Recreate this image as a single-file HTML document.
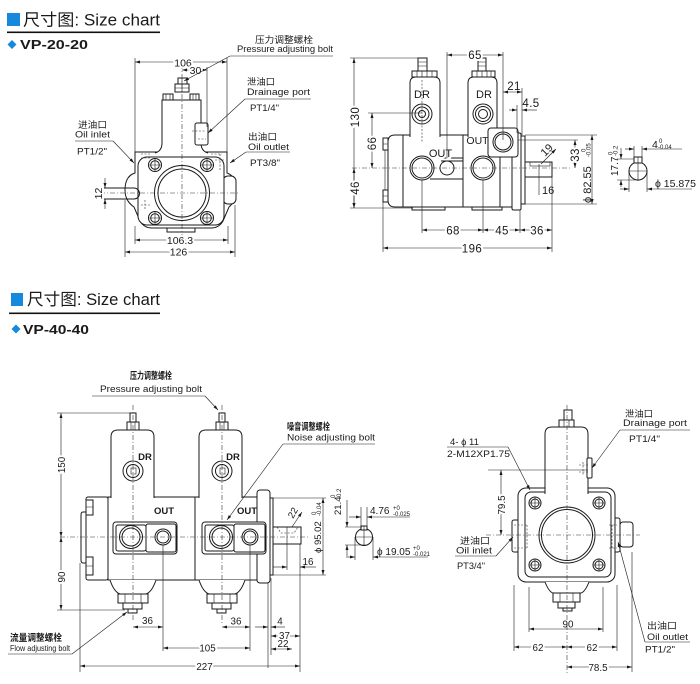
<!DOCTYPE html>
<html><head><meta charset="utf-8">
<style>
html,body{margin:0;padding:0;background:#fff;}
svg{display:block}
text{font-family:"Liberation Sans","Noto Sans CJK SC",sans-serif;fill:#1a1a1a}
.l{fill:none;stroke:#1a1a1a;stroke-width:1}
.w{fill:#fff;stroke:#1a1a1a;stroke-width:1}
.t{fill:none;stroke:#1a1a1a;stroke-width:0.6}
.c{fill:none;stroke:#333;stroke-width:0.6;stroke-dasharray:5 2 1 2}
.d{fill:none;stroke:#333;stroke-width:0.6;stroke-dasharray:2 1.5}
.dm{fill:none;stroke:#1a1a1a;stroke-width:0.6;marker-start:url(#a);marker-end:url(#a)}
.de{fill:none;stroke:#1a1a1a;stroke-width:0.6;marker-end:url(#a)}
.m{stroke:#fff;stroke-width:4;paint-order:stroke;stroke-linejoin:round}
.n{font-size:10.5px;text-anchor:middle}
.n2{font-size:11.5px;text-anchor:middle;letter-spacing:0.4px}
.n3{font-size:9.8px;text-anchor:middle}
.lb{font-size:9px}
.tl{font-size:6px}
</style></head><body>
<svg width="700" height="684" viewBox="0 0 700 684" xmlns="http://www.w3.org/2000/svg">
<defs><marker id="a" viewBox="0 0 10 6" refX="10" refY="3" markerWidth="6" markerHeight="3" markerUnits="userSpaceOnUse" orient="auto-start-reverse"><path d="M0,0L10,3L0,6z" fill="#1a1a1a"/></marker></defs>

<!-- ===== HEADER 1 ===== -->
<rect x="7" y="13" width="13" height="13" fill="#1689dc"/>
<text x="23" y="25.5" font-size="16.5" textLength="137" lengthAdjust="spacingAndGlyphs">尺寸图: Size chart</text>
<rect x="7" y="31.5" width="153" height="1.6" fill="#111"/>
<path d="M7.5,44.5 L12,40 L16.5,44.5 L12,49 Z" fill="#1689dc"/>
<text x="20" y="49" font-size="13" font-weight="bold" textLength="68" lengthAdjust="spacingAndGlyphs">VP-20-20</text>

<!-- ===== HEADER 2 ===== -->
<rect x="11" y="293" width="12" height="13" fill="#1689dc"/>
<text x="27" y="305" font-size="16.5" textLength="133" lengthAdjust="spacingAndGlyphs">尺寸图: Size chart</text>
<rect x="9" y="312.5" width="151" height="1.6" fill="#111"/>
<path d="M11.5,329 L16,324.5 L20.5,329 L16,333.5 Z" fill="#1689dc"/>
<text x="23" y="334" font-size="13" font-weight="bold" textLength="66" lengthAdjust="spacingAndGlyphs">VP-40-40</text>

<!-- ===== TOP-LEFT: VP-20-20 front ===== -->
<path class="w" d="M135,152 H227 V173 Q236,176 236,190 Q236,201 229,207 L223,221 Q219,228 211,228 H152 Q144,228 140,221 L134,207 Q125,201 125,190 Q125,176 135,173 Z"/>
<rect class="w" x="223" y="176" width="13" height="28" rx="5"/>
<rect class="w" x="138" y="157" width="86" height="68" rx="9"/>
<rect class="l" x="167" y="228" width="28" height="4"/>
<path class="l" d="M103,188 H134 A5.5,5.5 0 0 1 134,199 H103"/>
<path class="d" d="M141,154 H150 M141,158 H150 M141,205 H150 M145,200 V210 M211,154 H222 M215,160 H224 M220,154 V170"/>
<!-- cover -->
<path class="w" d="M155,153 Q162,151 162,143 V100 H201 V143 Q201,151 208,153"/>
<rect class="w" x="163" y="94" width="10" height="6"/>
<rect class="w" x="190" y="94" width="9" height="6"/>
<path class="t" d="M166,94 V100 M170,94 V100 M193,94 V100 M196,94 V100"/>
<rect class="w" x="175" y="84" width="14" height="8"/>
<rect class="w" x="178" y="78" width="9" height="6"/>
<path class="t" d="M175,88 H189 M182,78 V92"/>
<rect class="w" x="195" y="123" width="13" height="22" rx="2"/>
<path class="d" d="M192,131 H206 M198,139 H206"/>
<!-- big circle -->
<circle class="w" cx="182" cy="193" r="27.5"/>
<circle class="l" cx="182" cy="193" r="24"/>
<!-- bolt holes -->
<g>
<circle class="w" cx="155" cy="165" r="6.5"/><circle class="l" cx="155" cy="165" r="4.3"/><path class="t" d="M149,165 H161 M155,159 V171"/>
<circle class="w" cx="207" cy="165" r="6.5"/><circle class="l" cx="207" cy="165" r="4.3"/><path class="t" d="M201,165 H213 M207,159 V171"/>
<circle class="w" cx="155" cy="218" r="6.5"/><circle class="l" cx="155" cy="218" r="4.3"/><path class="t" d="M149,218 H161 M155,212 V224"/>
<circle class="w" cx="207" cy="218" r="6.5"/><circle class="l" cx="207" cy="218" r="4.3"/><path class="t" d="M201,218 H213 M207,212 V224"/>
</g>
<line class="c" x1="182" y1="64" x2="182" y2="238"/>
<line class="c" x1="100" y1="193" x2="240" y2="193"/>
<!-- dims TL -->
<path class="t" d="M135,58 V153 M227,58 V153 M207,67 V127 M125,200 V257 M235,205 V257 M135,226 V244 M228,226 V244"/>
<path class="dm" d="M135,62 H227"/><text class="n m" x="183" y="66.5">106</text>
<path class="dm" d="M182,70 H207"/><text class="n m" x="195.5" y="74">30</text>
<path class="de" d="M105,178 V188"/><path class="de" d="M105,209 V199"/>
<text class="n m" transform="translate(102,193.5) rotate(-90)">12</text>
<path class="dm" d="M135,240 H228"/><text class="n m" x="180" y="244">106.3</text>
<path class="dm" d="M125,252 H235"/><text class="n m" x="178.5" y="255.5">126</text>
<!-- labels TL -->
<path class="t" d="M230,56 H333"/><path class="de" d="M230,56 L184,81"/>
<text class="lb" x="255" y="43" textLength="58" lengthAdjust="spacingAndGlyphs">压力调整螺栓</text>
<text class="lb" x="237" y="52" textLength="96" lengthAdjust="spacingAndGlyphs">Pressure adjusting bolt</text>
<path class="t" d="M245,99 H311"/><path class="de" d="M245,99 L208,133"/>
<text class="lb" x="247" y="85" textLength="28" lengthAdjust="spacingAndGlyphs">泄油口</text>
<text class="lb" x="247" y="95" textLength="63" lengthAdjust="spacingAndGlyphs">Drainage port</text>
<text class="lb" x="250" y="111" textLength="29" lengthAdjust="spacingAndGlyphs">PT1/4"</text>
<path class="t" d="M246,152 H290"/><path class="de" d="M246,152 L230,163"/>
<text class="lb" x="248" y="140" textLength="29" lengthAdjust="spacingAndGlyphs">出油口</text>
<text class="lb" x="248" y="150" textLength="41" lengthAdjust="spacingAndGlyphs">Oil outlet</text>
<text class="lb" x="250" y="166" textLength="30" lengthAdjust="spacingAndGlyphs">PT3/8"</text>
<path class="t" d="M75,141 H113"/><path class="de" d="M113,141 L134,163"/>
<text class="lb" x="78" y="128" textLength="29" lengthAdjust="spacingAndGlyphs">进油口</text>
<text class="lb" x="75" y="137.5" textLength="35" lengthAdjust="spacingAndGlyphs">Oil inlet</text>
<text class="lb" x="77" y="154.5" textLength="30" lengthAdjust="spacingAndGlyphs">PT1/2"</text>

<!-- ===== TOP-RIGHT: side view ===== -->
<path class="w" d="M395,135 H502 V207 H395 Q388,207 388,200 V142 Q388,135 395,135 Z"/>
<rect class="w" x="383" y="138" width="5" height="12"/>
<rect class="w" x="383" y="190" width="5" height="12"/>
<path class="t" d="M385,150 V190 M383,144 H388 M383,196 H388"/>
<path class="l" d="M403,135 V207 M463,135 V207"/>
<rect class="l" x="412" y="207" width="33" height="3"/>
<rect class="l" x="472" y="207" width="30" height="3"/>
<rect class="w" x="500" y="135" width="13" height="72"/>
<rect class="w" x="512" y="133" width="9" height="77" rx="1.5"/>
<rect class="w" x="521" y="136" width="4" height="68"/>
<rect class="w" x="525" y="162" width="27" height="15"/>
<rect class="t" x="530" y="162" width="20" height="4"/>
<!-- covers -->
<path class="w" d="M410,137 V83 Q410,77 416,77 H434 Q440,77 440,83 V137"/>
<path class="w" d="M468,137 V83 Q468,77 474,77 H491 Q497,77 497,83 V137"/>
<rect class="w" x="412" y="71" width="25" height="6"/>
<path class="t" d="M417,71 V77 M422,71 V77 M427,71 V77 M432,71 V77"/>
<rect class="w" x="418" y="58" width="9" height="13"/>
<path class="t" d="M418,62 H427 M418,66 H427"/>
<rect class="w" x="472" y="71" width="23" height="6"/>
<path class="t" d="M477,71 V77 M482,71 V77 M487,71 V77 M491,71 V77"/>
<rect class="w" x="478" y="58" width="8" height="13"/>
<path class="t" d="M478,62 H486 M478,66 H486"/>
<text x="422" y="98" font-size="11" text-anchor="middle">DR</text>
<text x="484" y="98" font-size="11" text-anchor="middle">DR</text>
<circle class="w" cx="422" cy="114" r="10"/><circle class="l" cx="422" cy="114" r="7"/><circle class="l" cx="422" cy="114" r="3.5"/>
<circle class="w" cx="483" cy="114" r="10"/><circle class="l" cx="483" cy="114" r="7.5"/><circle class="l" cx="483" cy="114" r="4.5"/>
<line class="d" x1="422" y1="80" x2="422" y2="142"/>
<!-- ports -->
<path class="l" d="M441,158 H463 M441,161 H463 M430,179 H463"/>
<circle class="w" cx="422" cy="168" r="12"/><circle class="l" cx="422" cy="168" r="10"/>
<circle class="w" cx="447" cy="168" r="7"/>
<circle class="w" cx="483" cy="168" r="12"/><circle class="l" cx="483" cy="168" r="10"/>
<rect class="w" x="488" y="128" width="30" height="29" rx="3"/>
<circle class="w" cx="503" cy="142" r="10"/><circle class="l" cx="503" cy="142" r="8"/>
<text x="440.5" y="157" font-size="11" text-anchor="middle" class="m">OUT</text>
<text x="477.5" y="144" font-size="10.5" text-anchor="middle">OUT</text>
<line class="c" x1="352" y1="168" x2="572" y2="168"/>
<!-- dims TR -->
<path class="t" d="M350,58 H422 M350,208 H413 M368,113 H422 M447,52 V158 M503,52 V140 M522,88 V135 M517,105 V133 M518,140 H578 M525,135 H597 M525,204 H597 M383,200 V252 M422,180 V233 M483,180 V233 M520,210 V233 M552,177 V252 M539,164 V195"/>
<path class="dm" d="M354,58 V208"/><path class="dm" d="M354,168 V208"/>
<text class="n2 m" transform="translate(359,117) rotate(-90)">130</text>
<text class="n2 m" transform="translate(359,188) rotate(-90)">46</text>
<path class="dm" d="M372,113 V168"/>
<text class="n2 m" transform="translate(376,143.5) rotate(-90)">66</text>
<path class="dm" d="M447,55 H503"/><text class="n2 m" x="475" y="59">65</text>
<path class="dm" d="M503,92 H522"/><text class="n2" x="514" y="90">21</text>
<path class="de" d="M509,110 H517"/><path class="de" d="M537,110 H522"/>
<text class="n2" x="531" y="107">4.5</text>
<path class="dm" d="M575,140 V168"/>
<text class="n2 m" transform="translate(579,155) rotate(-90)">33</text>
<path class="dm" d="M592,135 V204"/>
<text font-size="11" transform="translate(591,203) rotate(-90)">ϕ 82.55</text>
<text class="tl" transform="translate(585.5,152) rotate(-90)">0</text>
<text class="tl" transform="translate(590.5,157) rotate(-90)">-0.05</text>
<path class="de" d="M541,164 L556,149"/>
<text font-size="11" transform="translate(545,157) rotate(-45)">19</text>
<text x="542" y="194" font-size="11">16</text>
<path class="dm" d="M422,230 H483"/><text class="n2 m" x="453" y="234.5">68</text>
<path class="dm" d="M483,230 H520"/><text class="n2 m" x="502" y="234.5">45</text>
<path class="dm" d="M520,230 H552"/><text class="n2 m" x="537" y="234.5">36</text>
<path class="dm" d="M383,248 H552"/><text class="n2 m" x="472" y="252.5">196</text>
<!-- key detail TR -->
<circle class="w" cx="638" cy="171" r="9"/>
<rect class="w" x="634" y="157" width="8" height="6"/>
<path class="t" d="M638,157 V181 M629,171 H647"/>
<path class="t" d="M634,146 V158 M642,146 V158 M617,159 H634 M617,180 H639 M629,171 V192 M647,171 V192"/>
<path class="de" d="M625,149 H634"/><path class="de" d="M682,149 H642"/>
<text x="652" y="148" font-size="10.5">4</text>
<text class="tl" x="659" y="143">0</text>
<text class="tl" x="658" y="149">-0.04</text>
<path class="de" d="M621,148 V159"/><path class="de" d="M621,187 V180"/>
<text font-size="10" transform="translate(618,176) rotate(-90)">17.7</text>
<text class="tl" transform="translate(612.5,155) rotate(-90)">0</text>
<text class="tl" transform="translate(617.5,156) rotate(-90)">-0.2</text>
<path class="de" d="M620,189 H629"/><path class="de" d="M692,189 H647"/>
<text x="655" y="187" font-size="10.5">ϕ 15.875</text>

<!-- ===== BOTTOM-LEFT: VP-40-40 side ===== -->
<path class="l" d="M86,512 H83 Q81,512 81,515 V560 Q81,563 83,563 H86"/>
<rect class="w" x="86" y="497" width="22" height="83" rx="2"/>
<rect class="w" x="86" y="500" width="7" height="15"/>
<rect class="w" x="86" y="557" width="7" height="18"/>
<path class="t" d="M86,507 H93 M86,566 H93"/>
<rect class="w" x="108" y="497" width="149" height="83"/>
<line class="l" x1="195" y1="497" x2="195" y2="580"/>
<!-- flange -->
<rect class="w" x="257" y="490" width="13" height="93" rx="3"/>
<rect class="w" x="270" y="498" width="3" height="77"/>
<rect class="w" x="273" y="527" width="28" height="17"/>
<path class="d" d="M277,527 L281,533 H294 L298,527"/>
<!-- covers -->
<path class="w" d="M111,498 V437 Q111,430 118,430 H147 Q154,430 154,437 V498"/>
<path class="w" d="M199,498 V437 Q199,430 206,430 H235 Q242,430 242,437 V498"/>
<rect class="w" x="127" y="422" width="12" height="8"/><rect class="w" x="130" y="413" width="6" height="9"/>
<rect class="w" x="216" y="422" width="12" height="8"/><rect class="w" x="219" y="413" width="6" height="9"/>
<path class="t" d="M131,422 V430 M135,422 V430 M220,422 V430 M224,422 V430"/>
<text x="145" y="460" font-size="9.5" font-weight="bold" text-anchor="middle">DR</text>
<text x="233" y="460" font-size="9.5" font-weight="bold" text-anchor="middle">DR</text>
<circle class="w" cx="133" cy="471" r="10"/><circle class="l" cx="133" cy="471" r="6.5"/><rect class="t" x="131" y="468" width="5" height="6"/>
<circle class="w" cx="222" cy="471" r="10"/><circle class="l" cx="222" cy="471" r="6.5"/><rect class="t" x="220" y="468" width="5" height="6"/>
<!-- ports -->
<rect class="w" x="113" y="522" width="64" height="32" rx="3"/>
<rect class="l" x="116" y="525" width="30" height="26" rx="2"/>
<rect class="l" x="146" y="524" width="30" height="28" rx="2" stroke-width="1.6"/>
<circle class="w" cx="131" cy="537" r="11.5"/><circle class="l" cx="131" cy="537" r="9"/>
<circle class="w" cx="163" cy="537" r="8"/><circle class="l" cx="163" cy="537" r="6"/>
<rect class="w" x="202" y="522" width="64" height="32" rx="3"/>
<rect class="l" x="205" y="525" width="29" height="26" rx="2"/>
<rect class="l" x="234" y="524" width="31" height="28" rx="2" stroke-width="1.6"/>
<circle class="w" cx="221" cy="537" r="11.5"/><circle class="l" cx="221" cy="537" r="9"/>
<circle class="w" cx="250" cy="537" r="8"/><circle class="l" cx="250" cy="537" r="6"/>
<text x="164" y="514" font-size="9.5" font-weight="bold" text-anchor="middle">OUT</text>
<text x="247" y="514" font-size="9.5" font-weight="bold" text-anchor="middle">OUT</text>
<!-- bottoms -->
<path class="w" d="M110,580 Q114,592 120,594 H146 Q152,592 156,580"/>
<rect class="w" x="118" y="594" width="30" height="9"/><path class="t" d="M125,594 V603 M141,594 V603"/>
<rect class="w" x="123" y="603" width="19" height="6"/><rect class="w" x="128" y="609" width="9" height="4"/>
<path class="w" d="M199,580 Q203,592 209,594 H235 Q241,592 245,580"/>
<rect class="w" x="207" y="594" width="30" height="9"/><path class="t" d="M214,594 V603 M230,594 V603"/>
<rect class="w" x="212" y="603" width="19" height="6"/><rect class="w" x="217" y="609" width="9" height="4"/>
<line class="c" x1="60" y1="537" x2="310" y2="537"/>
<line class="c" x1="133" y1="405" x2="133" y2="622"/>
<line class="c" x1="222" y1="405" x2="222" y2="625"/>
<!-- dims BL -->
<path class="t" d="M57,413 H130 M57,610 H125 M80,563 V672 M163,545 V651 M250,545 V651 M268,583 V668 M271,578 V655 M300,544 V672 M287,527 V570 M273,498 H326 M273,575 H326"/>
<path class="dm" d="M61,413 V537"/><path class="dm" d="M61,537 V610"/>
<text class="n3 m" transform="translate(65,465) rotate(-90)">150</text>
<text class="n3 m" transform="translate(65,577) rotate(-90)">90</text>
<path class="dm" d="M133,627 H163"/><text class="n3" x="147.5" y="624">36</text>
<path class="dm" d="M163,648 H250"/><text class="n3 m" x="207.5" y="651.5">105</text>
<path class="dm" d="M80,666 H300"/><text class="n3 m" x="204.5" y="670">227</text>
<path class="dm" d="M222,627 H250"/><text class="n3" x="236" y="624.5">36</text>
<path class="de" d="M255,627 H268"/><path class="de" d="M285,627 H271"/>
<text class="n3" x="280" y="624.5">4</text>
<path class="dm" d="M271,636 H300"/><text class="n3 m" x="284.5" y="639">37</text>
<path class="dm" d="M271,649 H292"/><text class="n3" x="283" y="647">22</text>
<path class="de" d="M273,567 H287"/><path class="de" d="M316,567 H300"/>
<text class="n3" x="308" y="565">16</text>
<path class="de" d="M292,527 L302,512"/>
<text font-size="9.5" transform="translate(293,519) rotate(-60)">22</text>
<path class="dm" d="M323,498 V575"/>
<text font-size="9.5" transform="translate(321,553) rotate(-90)">ϕ 95.02</text>
<text class="tl" transform="translate(316,515) rotate(-90)">0</text>
<text class="tl" transform="translate(321,516) rotate(-90)">-0.04</text>
<!-- labels BL -->
<path class="t" d="M92,396 H205"/><path class="de" d="M205,396 L218,410"/>
<text x="130" y="379" font-size="9.5" font-weight="bold" textLength="42" lengthAdjust="spacingAndGlyphs">压力调整螺栓</text>
<text x="100" y="392" font-size="9" textLength="102" lengthAdjust="spacingAndGlyphs">Pressure adjusting bolt</text>
<path class="t" d="M283,444 H375"/><path class="de" d="M283,444 L227,520"/>
<text x="287" y="430" font-size="9.5" font-weight="bold" textLength="43" lengthAdjust="spacingAndGlyphs">噪音调整螺栓</text>
<text x="287" y="440.5" font-size="9" textLength="88" lengthAdjust="spacingAndGlyphs">Noise adjusting bolt</text>
<path class="t" d="M8,654 H72"/><path class="de" d="M72,654 L127,612"/>
<text x="10" y="641" font-size="9.5" font-weight="bold" textLength="52" lengthAdjust="spacingAndGlyphs">流量调整螺栓</text>
<text x="10" y="651" font-size="8" textLength="60" lengthAdjust="spacingAndGlyphs">Flow adjusting bolt</text>
<!-- key detail BL -->
<circle class="w" cx="364" cy="537" r="8.5"/>
<rect class="w" x="361" y="526" width="6" height="4"/>
<path class="t" d="M364,526 V546 M356,537 H372"/>
<path class="t" d="M345,527 H362 M345,545 H366 M361,507 V527 M367,507 V527 M355,537 V560 M373,537 V560"/>
<path class="de" d="M347,500 V527"/><path class="de" d="M347,556 V545"/>
<text font-size="9.5" transform="translate(341,515) rotate(-90)">21.4</text>
<text class="tl" transform="translate(335,498) rotate(-90)">0</text>
<text class="tl" transform="translate(341,499) rotate(-90)">-0.2</text>
<path class="de" d="M349,517 H361"/><path class="de" d="M410,517 H367"/>
<text x="370" y="514" font-size="10">4.76</text>
<text class="tl" x="393" y="510">+0</text>
<text class="tl" x="393" y="516">-0.025</text>
<path class="de" d="M346,557 H355"/><path class="de" d="M428,557 H373"/>
<text x="377" y="555" font-size="10">ϕ 19.05</text>
<text class="tl" x="413" y="550">+0</text>
<text class="tl" x="413" y="556">-0.021</text>

<!-- ===== BOTTOM-RIGHT: VP-40-40 front ===== -->
<rect class="w" x="512" y="520" width="18" height="32" rx="2"/>
<rect class="w" x="607" y="518" width="13" height="34" rx="2"/>
<rect class="w" x="620" y="522" width="13" height="25" rx="3"/>
<rect class="w" x="518" y="488" width="97" height="94" rx="8"/>
<rect class="l" x="525" y="492" width="86" height="85" rx="6"/>
<path class="d" d="M514,525 H527 M514,548 H527 M527,525 V548 M609,525 H617 M609,548 H617 M612,525 V548"/>
<path class="w" d="M545,494 V434 Q545,427 552,427 H581 Q588,427 588,434 V494"/>
<rect class="w" x="587" y="458" width="5" height="20" rx="1"/>
<path class="d" d="M579,465 H589 M579,472 H589 M583,462 V476"/>
<rect class="w" x="559" y="420" width="15" height="7"/><rect class="w" x="564" y="410" width="8" height="10"/>
<path class="t" d="M564,420 V427 M569,420 V427"/>
<circle class="w" cx="567" cy="535" r="28"/><circle class="l" cx="567" cy="535" r="25.5"/>
<g>
<circle class="w" cx="535" cy="503" r="6"/><circle class="l" cx="535" cy="503" r="4"/><path class="t" d="M529,503 H541 M535,497 V509"/>
<circle class="w" cx="599" cy="503" r="6"/><circle class="l" cx="599" cy="503" r="4"/><path class="t" d="M593,503 H605 M599,497 V509"/>
<circle class="w" cx="535" cy="565" r="6"/><circle class="l" cx="535" cy="565" r="4"/><path class="t" d="M529,565 H541 M535,559 V571"/>
<circle class="w" cx="599" cy="565" r="6"/><circle class="l" cx="599" cy="565" r="4"/><path class="t" d="M593,565 H605 M599,559 V571"/>
</g>
<path class="w" d="M545,582 Q549,592 553,593 H581 Q585,592 589,582"/>
<rect class="w" x="553" y="593" width="27" height="9"/><path class="t" d="M560,593 V602 M573,593 V602"/>
<rect class="w" x="558" y="602" width="17" height="6"/><rect class="w" x="563" y="608" width="9" height="3"/>
<line class="c" x1="567" y1="405" x2="567" y2="673"/>
<line class="c" x1="486" y1="535" x2="640" y2="535"/>
<!-- dims BR -->
<path class="t" d="M488,470 H588 M529,587 V632 M603,587 V632 M514,585 V651 M617,585 V651 M632,552 V672"/>
<path class="dm" d="M501,470 V535"/>
<text class="n3 m" transform="translate(505,505) rotate(-90)">79.5</text>
<path class="dm" d="M529,629 H603"/><text class="n3" x="568" y="627.5">90</text>
<path class="dm" d="M514,647 H567"/><text class="n3 m" x="538" y="651">62</text>
<path class="dm" d="M567,647 H617"/><text class="n3 m" x="592" y="651">62</text>
<path class="dm" d="M567,667 H632"/><text class="n3 m" x="598" y="671">78.5</text>
<!-- labels BR -->
<path class="t" d="M447,447 H508"/><path class="de" d="M508,447 L530,490"/>
<text x="450" y="445" font-size="9.5">4- ϕ 11</text>
<text x="447" y="457" font-size="9.5" textLength="63" lengthAdjust="spacingAndGlyphs">2-M12XP1.75</text>
<path class="t" d="M620,430 H690"/><path class="de" d="M620,430 L592,468"/>
<text class="lb" x="625" y="417" textLength="28" lengthAdjust="spacingAndGlyphs">泄油口</text>
<text class="lb" x="623" y="426" textLength="64" lengthAdjust="spacingAndGlyphs">Drainage port</text>
<text class="lb" x="629" y="442" textLength="31" lengthAdjust="spacingAndGlyphs">PT1/4"</text>
<path class="t" d="M455,556 H496"/><path class="de" d="M496,556 L513,537"/>
<text class="lb" x="460" y="544" textLength="30" lengthAdjust="spacingAndGlyphs">进油口</text>
<text class="lb" x="456" y="553.5" textLength="36" lengthAdjust="spacingAndGlyphs">Oil inlet</text>
<text class="lb" x="457" y="569" textLength="28" lengthAdjust="spacingAndGlyphs">PT3/4"</text>
<path class="t" d="M645,642 H690"/><path class="de" d="M645,642 L618,542"/>
<text class="lb" x="647" y="629" textLength="30" lengthAdjust="spacingAndGlyphs">出油口</text>
<text class="lb" x="647" y="640" textLength="41" lengthAdjust="spacingAndGlyphs">Oil outlet</text>
<text class="lb" x="645" y="652.5" textLength="30" lengthAdjust="spacingAndGlyphs">PT1/2"</text>
</svg>
</body></html>
